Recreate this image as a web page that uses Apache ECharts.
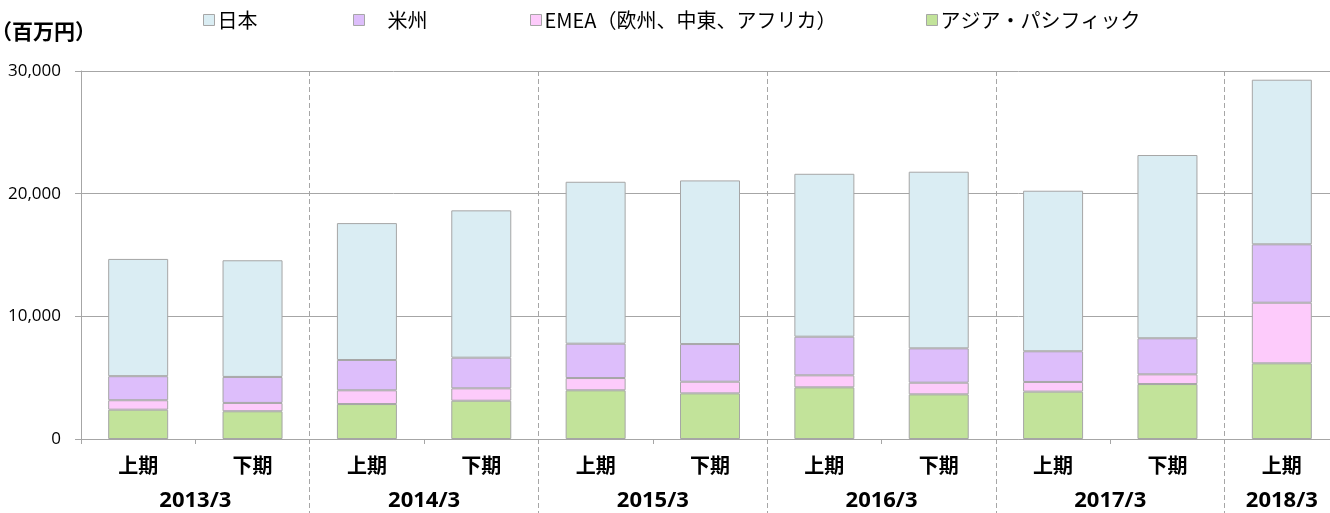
<!DOCTYPE html>
<html>
<head>
<meta charset="utf-8">
<script src="https://cdn.jsdelivr.net/npm/echarts@6/dist/echarts.min.js"></script>
<style>
	html, body { margin: 0; padding: 0; background: #fff; }
	#main { width: 1330px; height: 513px; }
</style>
</head>
<body>
<div id="main"></div>
<script>
// 期（上期・下期）
var periods = ['上期', '下期', '上期', '下期', '上期', '下期', '上期', '下期', '上期', '下期', '上期'];
// 年度ラベルと各年度の期数
var yearLabels = ['2013/3', '2014/3', '2015/3', '2016/3', '2017/3', '2018/3'];
var yearPeriodCounts = [2, 2, 2, 2, 2, 1];

// 地域別（百万円）
var asia     = [2390, 2260, 2850, 3120, 3970, 3720, 4210, 3640, 3860, 4480, 6170];
var emea     = [770, 680, 1120, 1010, 1000, 950, 980, 950, 790, 790, 4940];
var americas = [1960, 2120, 2470, 2500, 2800, 3070, 3150, 2800, 2500, 2940, 4760];
var japan    = [9560, 9510, 11160, 12010, 13200, 13340, 13280, 14400, 13090, 14940, 13420];

var yTicks = [0, 10000, 20000, 30000];

var cjkFont = '"Noto Sans CJK JP", "Noto Sans", sans-serif';
var numFont = '"Open Sans", "Noto Sans", sans-serif';
var gray = '#A6A6A6';

// 年度ラベル用の半期刻みカテゴリ
var halfCats = [];
for (var i = 0; i <= periods.length * 2; i++) halfCats.push('');
var sepIdx = [];
var start = 0;
yearLabels.forEach(function(y, k){
	var cnt = yearPeriodCounts[k];
	halfCats[start * 2 + cnt] = y;
	if (k < yearLabels.length - 1) sepIdx.push((start + cnt) * 2);
	start += cnt;
});
function isSep(idx){ return sepIdx.indexOf(idx) >= 0; }

function mkLegend(name, left, fmt){
	return {
		data: [name],
		left: left,
		top: 10,
		padding: 0,
		itemWidth: 11,
		itemHeight: 11,
		itemGap: 0,
		icon: 'rect',
		formatter: fmt || '{name}',
		itemStyle: { borderColor: gray, borderWidth: 1 },
		textStyle: { fontFamily: cjkFont, fontSize: 20, color: '#000', padding: [0, 0, 0, -2] }
	};
}

var myChart = echarts.init(document.getElementById('main'));
var barStyle = function(c){
	return { color: c, borderColor: gray, borderWidth: 1 };
};
var option = {
	animation: false,
	title: {
		text: '（百万円）',
		left: -9,
		top: 21,
		padding: 0,
		textStyle: { fontFamily: cjkFont, fontSize: 21, fontWeight: 'bold', color: '#000' }
	},
	legend: [
		mkLegend('日本', 203),
		mkLegend('米州', 353, '　{name}'),
		mkLegend('EMEA（欧州、中東、アフリカ）', 530),
		mkLegend('アジア・パシフィック', 926)
	],
	grid: {
		left: 81,
		width: 1258,
		top: 71,
		bottom: 74,
		outerBoundsMode: 'none'
	},
	xAxis: [{
		type: 'category',
		data: periods,
		axisLine: { lineStyle: { color: gray, width: 1 } },
		axisTick: { show: true, length: 5, lineStyle: { color: gray } },
		axisLabel: {
			margin: 16,
			fontFamily: cjkFont,
			fontSize: 20,
			fontWeight: 'bold',
			color: '#000'
		},
		splitLine: { show: false }
	}, {
		type: 'category',
		data: halfCats,
		boundaryGap: false,
		position: 'bottom',
		axisLine: { show: false },
		axisTick: {
			show: true,
			interval: function(idx){ return isSep(idx); },
			length: 74,
			lineStyle: { color: gray, type: [5, 3], width: 1 }
		},
		splitLine: {
			show: true,
			interval: function(idx){ return isSep(idx); },
			lineStyle: { color: gray, type: [5, 3], width: 1 }
		},
		axisLabel: {
			interval: 0,
			margin: 51,
			fontFamily: numFont,
			fontSize: 22,
			fontWeight: 'bold',
			color: '#000'
		}
	}],
	yAxis: {
		type: 'value',
		min: yTicks[0],
		max: yTicks[yTicks.length - 1],
		interval: yTicks[1] - yTicks[0],
		axisLine: { show: true, lineStyle: { color: gray } },
		axisTick: { show: true, length: 6, lineStyle: { color: gray } },
		axisLabel: {
			margin: 20,
			fontFamily: numFont,
			fontSize: 17,
			color: '#000',
			formatter: function(v){ return v.toLocaleString('en-US'); }
		},
		splitLine: { show: true, lineStyle: { color: gray, width: 1 } }
	},
	series: [{
		name: 'アジア・パシフィック',
		type: 'bar',
		stack: 'total',
		barWidth: 60,
		itemStyle: barStyle('#C2E39A'),
		data: asia
	}, {
		name: 'EMEA（欧州、中東、アフリカ）',
		type: 'bar',
		stack: 'total',
		barWidth: 60,
		itemStyle: barStyle('#FDCBFB'),
		data: emea
	}, {
		name: '米州',
		type: 'bar',
		stack: 'total',
		barWidth: 60,
		itemStyle: barStyle('#DDBEFB'),
		data: americas
	}, {
		name: '日本',
		type: 'bar',
		stack: 'total',
		barWidth: 60,
		itemStyle: barStyle('#DAEDF3'),
		data: japan
	}]
};

myChart.setOption(option);
window.addEventListener("resize", function(){
	myChart.resize();
});
</script>
</body>
</html>
